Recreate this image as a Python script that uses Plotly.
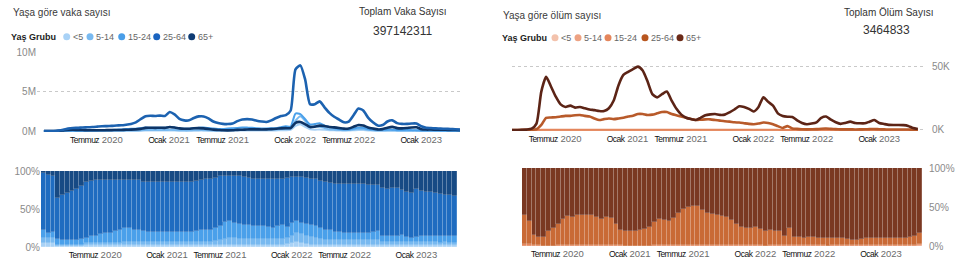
import plotly.graph_objects as go
import pandas as pd

W, H = 959, 269

# ---------------- data ----------------
dates = pd.date_range("2020-01-05", periods=87, freq="14D")
groups = ["<5", "5-14", "15-24", "25-64", "65+"]

# Cases by age group (thousands, weekly value sampled every 2 weeks)
case_u5 = [0.13, 0.26, 0.68, 0.9, 2.5, 4.8, 5.9, 6, 6.4, 12.9, 13.7, 15, 16.9, 17.7, 18.8, 20.9, 22.2, 25.4, 28.6, 33.8,
           45.5, 57.2, 58.5, 57.6, 59.1, 57.6, 72.7, 63.6, 47, 40.9, 40.9, 50, 56, 56, 47.8, 35.8, 45.5, 41.5, 43.3, 47.5,
           60.5, 69, 71.4, 70.2, 62.9, 58, 56.6, 65.3, 77.3, 92, 100, 160, 650, 859, 533, 223, 167, 184, 145, 110,
           87, 69, 52.4, 56, 94, 134, 122, 80, 52, 34, 37.5, 57, 65, 48, 44, 46, 48, 48, 29, 21,
           20, 17, 16, 15, 14, 12, 10]
case_5_14 = [0.19, 0.37, 0.96, 1.8, 5.1, 9.7, 11.9, 12, 12.9, 19.3, 20.5, 22.6, 25.4, 26.6, 28.3, 31.3, 33.2, 50.8, 57.1, 67.7,
             90.9, 114, 117, 115, 118, 115, 145, 127, 93.9, 81.8, 81.8, 100, 112, 112, 95.5, 71.6, 75.8, 83.1, 115, 142,
             181, 184, 190, 187, 168, 155, 151, 174, 206, 245, 267, 320, 1300, 1860, 1279, 613, 557, 553, 387, 219,
             174, 138, 105, 112.5, 187.5, 267, 244, 159, 105, 68, 75, 57, 65, 48, 44, 46, 48, 48, 29, 21,
             20, 17, 16, 15, 14, 12, 10]
case_15_24 = [0.27, 0.37, 1.1, 6.4, 15.3, 29, 35.6, 35.8, 45, 45, 61.6, 75.3, 101, 115, 132, 167, 199, 241, 271, 288,
              364, 429, 409, 403, 414, 403, 509, 445, 329, 286, 286, 350, 420, 448, 382, 304, 258, 263, 317, 348,
              383, 437, 429, 421, 356, 329, 320, 348, 361, 490, 600, 560, 2210, 2147, 1492, 836, 892, 984, 677, 511,
              377, 253, 192, 187.5, 312.5, 445, 406, 266, 175, 124, 150, 171, 174, 127, 131, 153, 113, 97, 67, 56,
              52, 51, 48, 46, 42, 37, 31]
case_25_64 = [2, 4, 10, 50, 150, 300, 380, 400, 450, 470, 500, 550, 600, 620, 650, 700, 720, 800, 900, 1100,
              1500, 1860, 1930, 1900, 1950, 1900, 2400, 2100, 1550, 1350, 1350, 1650, 1850, 1850, 1600, 1200, 1000, 900, 880, 950,
              1250, 1450, 1500, 1450, 1300, 1200, 1150, 1350, 1650, 1900, 2000, 2600, 7800, 8300, 6500, 3400, 3400, 3750, 3000, 2300,
              1800, 1450, 1100, 1200, 2000, 2850, 2600, 1700, 1100, 700, 750, 1200, 1350, 1000, 900, 900, 950, 950, 600, 420,
              380, 330, 300, 280, 250, 220, 180]
case_65 = [0.08, 0.26, 0.96, 31.8, 81.4, 140, 160, 143, 129, 96.6, 89, 90.4, 101, 106, 113, 125, 133, 152, 171, 203,
           273, 401, 409, 403, 414, 403, 509, 445, 329, 286, 286, 350, 364, 336, 263, 179, 136, 96.9, 86.6, 95,
           141, 161, 190, 210, 210, 194, 207, 240, 284, 337, 367, 360, 1040, 1145, 852, 502, 557, 676, 629, 511,
           465, 391, 297, 319, 531, 757, 691, 452, 314, 203, 238, 419, 523, 365, 334, 381, 451, 467, 229, 182,
           183, 154, 155, 153, 144, 133, 114]

# Deaths by age group (thousands)
death_u5 = [0, 0, 0, 0, 0, 0, 0.001, 0.004, 0.02, 0.03, 0.03, 0.03, 0.03, 0.03, 0.03, 0.03, 0.03, 0.03, 0.03, 0.03,
            0.03, 0.03, 0.03, 0.03, 0.03, 0.04, 0.04, 0.04, 0.04, 0.04, 0.04, 0.03, 0.03, 0.03, 0.03, 0.03, 0.03, 0.03, 0.03, 0.03,
            0.03, 0.03, 0.03, 0.03, 0.03, 0.03, 0.03, 0.03, 0.03, 0.03, 0.03, 0.03, 0.03, 0.03, 0.03, 0.03, 0.03, 0.02, 0.02, 0.02,
            0.02, 0.01, 0.01, 0.01, 0.01, 0.01, 0.01, 0.01, 0.01, 0.01, 0.01, 0.01, 0.01, 0.01, 0.01, 0.01, 0.01, 0.01, 0.01, 0.01,
            0.01, 0.01, 0.01, 0.01, 0.01, 0.005, 0.005]
death_5_14 = [0, 0, 0, 0, 0, 0, 0.001, 0.003, 0.02, 0.02, 0.02, 0.02, 0.02, 0.02, 0.02, 0.02, 0.02, 0.02, 0.02, 0.02,
              0.02, 0.02, 0.02, 0.03, 0.03, 0.03, 0.03, 0.03, 0.03, 0.03, 0.03, 0.03, 0.03, 0.03, 0.03, 0.03, 0.02, 0.02, 0.02, 0.02,
              0.02, 0.02, 0.02, 0.02, 0.02, 0.02, 0.02, 0.02, 0.02, 0.02, 0.02, 0.02, 0.02, 0.02, 0.02, 0.02, 0.02, 0.01, 0.01, 0.01,
              0.01, 0.01, 0.01, 0.01, 0.01, 0.01, 0.01, 0.01, 0.01, 0.01, 0.01, 0.01, 0.01, 0.01, 0.01, 0.01, 0.01, 0.01, 0.01, 0.01,
              0.01, 0.01, 0.01, 0.01, 0.01, 0.005, 0.005]
death_15_24 = [0, 0, 0, 0, 0.005, 0.01, 0.01, 0.03, 0.12, 0.2, 0.2, 0.2, 0.2, 0.2, 0.2, 0.2, 0.2, 0.2, 0.2, 0.2,
               0.2, 0.2, 0.25, 0.25, 0.25, 0.25, 0.25, 0.25, 0.25, 0.25, 0.25, 0.25, 0.25, 0.25, 0.25, 0.25, 0.25, 0.2, 0.2, 0.2,
               0.2, 0.2, 0.2, 0.2, 0.2, 0.2, 0.2, 0.2, 0.2, 0.2, 0.2, 0.15, 0.15, 0.15, 0.15, 0.15, 0.15, 0.08, 0.06, 0.06,
               0.05, 0.05, 0.05, 0.05, 0.05, 0.05, 0.05, 0.05, 0.05, 0.05, 0.05, 0.05, 0.05, 0.05, 0.05, 0.05, 0.05, 0.05, 0.05, 0.05,
               0.04, 0.04, 0.04, 0.04, 0.04, 0.02, 0.01]
death_25_64 = [0, 0, 0, 0, 0.06, 0.13, 0.15, 0.6, 4, 9.5, 9.8, 10, 10.5, 11, 11, 11.5, 11.7, 11, 10.5, 9,
               7.8, 8.5, 9, 8.5, 9, 9.6, 10.5, 11.2, 12.5, 12.5, 11.7, 12, 13, 14, 14, 12.5, 11.5, 10.5, 9.6, 8.5,
               7.8, 8, 8.3, 8.3, 7.8, 7.3, 6.8, 6.5, 6, 5.8, 5.3, 4.8, 4.5, 5, 5.8, 5.5, 4.5, 3.0, 1.6, 3.0,
               1.2, 0.85, 0.6, 0.5, 0.55, 0.65, 1.0, 1.1, 0.85, 0.65, 0.5, 0.45, 0.5, 0.4, 0.45, 0.55, 0.7, 0.8, 0.55, 0.45,
               0.4, 0.4, 0.4, 0.4, 0.35, 0.2, 0.14]
death_65 = [0, 0, 0, 0, 0.1, 0.3, 1, 5, 30, 41.5, 34, 26, 20, 18, 19, 17.5, 18, 17, 16, 15.5,
            14.8, 14.8, 17, 23, 35, 43, 45.5, 47.5, 49.5, 46.5, 38, 28, 25.5, 28, 30, 23, 16.5, 12, 9.6, 8.5,
            7.8, 9.5, 11.5, 12.2, 12.5, 11.8, 12, 13.8, 16, 18.5, 18, 16.5, 14.5, 18, 25.5, 22, 19, 13, 11, 10.4,
            10.2, 7.5, 5.5, 4.5, 5, 6, 9.5, 10.5, 8, 6, 4.8, 5.5, 6.5, 5.5, 5.2, 5.2, 6.5, 7.8, 5.5, 4.7,
            4, 3.9, 3.9, 3.8, 3.2, 1.5, 0.8]

case_series = [case_u5, case_5_14, case_15_24, case_25_64, case_65]
death_series = [death_u5, death_5_14, death_15_24, death_25_64, death_65]

blue_colors = ["#a9d2f6", "#78b9f0", "#4aa0ea", "#1f6cc0", "#174a84"]
blue_lines = ["#a9d2f6", "#78b9f0", "#4aa0ea", "#1c62b0", "#0d3466"]
brown_colors = ["#f3c2ac", "#eda283", "#e4865c", "#c96a36", "#7a3822"]
brown_lines = ["#f3c2ac", "#eda283", "#e4865c", "#b85a2a", "#5c2416"]
legend_blue = ["#a9d2f6", "#78b9f0", "#4a9ee8", "#1a64c0", "#0e3b73"]
legend_brown = ["#f3c2ac", "#eda283", "#e4865c", "#b8561f", "#6b2a17"]

tick_dates = ["2020-06-05", "2021-01-01", "2021-06-05", "2022-01-01", "2022-06-05", "2023-01-01"]
tick_month = ["Temmuz", "Ocak", "Temmuz", "Ocak", "Temmuz", "Ocak"]
tick_year = ["2020", "2021", "2021", "2022", "2022", "2023"]

total_cases = "397142311"
total_deaths = "3464833"

# ---------------- figure ----------------
fig = go.Figure()

FONT = "Liberation Sans, Arial, sans-serif"
span = ('<span style="font-size:8.5px;letter-spacing:-0.5px;color:#111">')
tick_text = [f"{span}{m}</span> {y}" for m, y in zip(tick_month, tick_year)]

order_left = [0, 1, 2, 4, 3]
for k in order_left:
    fig.add_trace(go.Scatter(x=dates, y=case_series[k], mode="lines", line=dict(color=blue_lines[k],
                  width=2.6 if k >= 3 else 2, shape="spline", smoothing=0.6),
                  xaxis="x", yaxis="y", showlegend=False, name=groups[k]))
for k in range(5):
    fig.add_trace(go.Bar(x=dates, y=case_series[k],
                  marker=dict(color=blue_colors[k], line=dict(width=0.8, color="rgba(255,255,255,0.22)")),
                  xaxis="x2", yaxis="y2", showlegend=False, name=groups[k]))

for k in range(5):
    fig.add_trace(go.Scatter(x=dates, y=death_series[k], mode="lines", line=dict(color=brown_lines[k],
                  width=2.6 if k >= 3 else 2, shape="spline", smoothing=0.6),
                  xaxis="x3", yaxis="y3", showlegend=False, name=groups[k]))
death_tot = [sum(v) for v in zip(*death_series)]
for k in range(5):
    yv = [v if t > 0 else None for v, t in zip(death_series[k], death_tot)]
    fig.add_trace(go.Bar(x=dates, y=yv,
                  marker=dict(color=brown_colors[k], line=dict(width=0.8, color="rgba(255,255,255,0.22)")),
                  xaxis="x4", yaxis="y4", showlegend=False, name=groups[k]))

# legend markers on an overlay pixel axis
lx_left = [66.7, 90, 121.7, 156.7, 191.7]
lx_right = [555, 578, 608, 645, 680]
fig.add_trace(go.Scatter(x=lx_left + lx_right, y=[36.7] * 5 + [37.7] * 5, mode="markers",
                         marker=dict(size=7, color=legend_blue + legend_brown),
                         xaxis="x5", yaxis="y5", showlegend=False, hoverinfo="skip"))


def px(x):
    return x / W


def py(y):
    return 1 - y / H


xcommon = dict(showgrid=False, zeroline=False, showline=False, ticks="", tickvals=tick_dates,
               ticktext=tick_text, tickangle=0, automargin=False,
               tickfont=dict(family=FONT, size=9.5, color="#6b6b6b"), fixedrange=True)
ycommon = dict(zeroline=False, showline=False, ticks="", automargin=False,
               tickfont=dict(family=FONT, size=10, color="#8a8a8a"))

fig.update_layout(
    width=W, height=H, margin=dict(l=0, r=0, t=0, b=0, autoexpand=False),
    paper_bgcolor="white", plot_bgcolor="rgba(0,0,0,0)",
    barmode="stack", barnorm="percent", bargap=0,
    xaxis=dict(domain=[px(37), px(460)], range=["2019-12-16", "2023-04-23"], anchor="y", **xcommon),
    yaxis=dict(domain=[py(132), py(52)], range=[-125, 10000], tickvals=[0, 5000, 10000],
               ticktext=["0M", "5M", "10M"], showgrid=True, gridcolor="#c9c9c9", griddash="dot", gridwidth=1,
               anchor="x", **ycommon),
    xaxis2=dict(domain=[px(41), px(457)], range=["2019-12-29", "2023-04-30"], anchor="y2", **xcommon),
    yaxis2=dict(domain=[py(247), py(171)], range=[0, 100], tickvals=[0, 50, 100],
                ticktext=["0%", "50%", "100%"], showgrid=False, anchor="x2", **ycommon),
    xaxis3=dict(domain=[px(512), px(923)], range=["2020-02-01", "2023-05-08"], anchor="y3", **xcommon),
    yaxis3=dict(domain=[py(131), py(60)], range=[-0.8, 54.7], tickvals=[0, 50], ticktext=["0K", "50K"],
                side="right", showgrid=True, gridcolor="#c9c9c9", griddash="dot", gridwidth=1,
                ticklabelstandoff=8, anchor="x3", **ycommon),
    xaxis4=dict(domain=[px(522), px(922)], range=["2020-02-23", "2023-04-30"], anchor="y4", **xcommon),
    yaxis4=dict(domain=[py(246), py(168)], range=[0, 100], tickvals=[0, 50, 100],
                ticktext=["0%", "50%", "100%"], side="right", showgrid=False, ticklabelstandoff=6,
                anchor="x4", **ycommon),
    xaxis5=dict(domain=[0, 1], range=[0, W], visible=False, fixedrange=True, automargin=False),
    yaxis5=dict(domain=[0, 1], range=[H, 0], visible=False, fixedrange=True, anchor="x5", automargin=False),
)


def ann(x, y, text, size=10, color="#333333", bold=False, anchor="left"):
    fig.add_annotation(x=x, y=y, xref="x5", yref="y5", text=f"<b>{text}</b>" if bold else text,
                       showarrow=False, xanchor=anchor, yanchor="middle",
                       font=dict(family=FONT, size=size, color=color))


ann(11, 12.7, "Yaşa göre vaka sayısı", 10, "#3a3a3a")
ann(9, 36.5, "Yaş Grubu", 9, "#222222", bold=True)
for x, g in zip(lx_left, groups):
    ann(x + 4, 37, g, 9, "#666666")
ann(403, 11, "Toplam Vaka Sayısı", 10, "#333333", anchor="center")
ann(403, 31, total_cases, 12, "#333333", anchor="center")

ann(501, 15.7, "Yaşa göre ölüm sayısı", 10, "#3a3a3a")
ann(500, 37.5, "Yaş Grubu", 9, "#222222", bold=True)
for x, g in zip(lx_right, groups):
    ann(x + 4, 38, g, 9, "#666666")
ann(888, 12.7, "Toplam Ölüm Sayısı", 10, "#333333", anchor="center")
ann(886, 30, total_deaths, 12, "#333333", anchor="center")

fig.write_html("out.html")
